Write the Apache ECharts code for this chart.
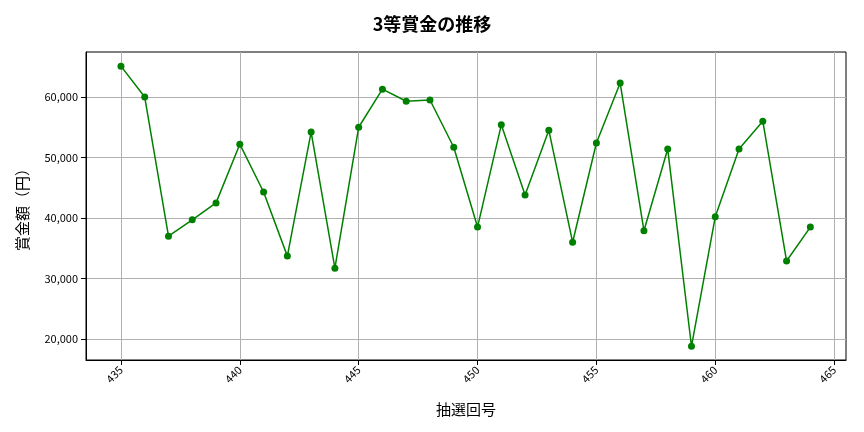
<!DOCTYPE html><html><head><meta charset="utf-8"><script src="https://cdn.jsdelivr.net/npm/echarts@6/dist/echarts.min.js"></script></head><body style="margin:0"><div id="c" style="width:864px;height:432px"></div><script>
const draws=[435,436,437,438,439,440,441,442,443,444,445,446,447,448,449,450,451,452,453,454,455,456,457,458,459,460,461,462,463,464];
const prizes=[65100,60000,37000,39700,42500,52200,44300,33700,54200,31700,55000,61300,59300,59500,51700,38500,55400,43800,54500,36000,52400,62300,37900,51400,18800,40200,51400,56000,32900,38500];
const xTicks=[435,440,445,450,455,460,465];
const yTicks=[20000,30000,40000,50000,60000];
const f='"Noto Sans CJK JP","Noto Sans",sans-serif';
const ch=echarts.init(document.getElementById('c'));
ch.setOption({animation:false,
title:{text:'3等賞金の推移',left:'center',top:10,textStyle:{fontFamily:f,fontSize:18,fontWeight:'bold',color:'#000'}},
grid:{left:86,right:18,top:52,bottom:72,show:true,borderColor:'#000',borderWidth:1},
xAxis:{type:'value',min:433.53,max:465.5,name:'抽選回号',nameLocation:'middle',nameGap:42,nameTextStyle:{fontFamily:f,fontSize:15,color:'#000'},
axisLine:{onZero:false,lineStyle:{color:'#000'}},axisTick:{customValues:xTicks,lineStyle:{color:'#000'}},
axisLabel:{customValues:xTicks,rotate:45,fontFamily:f,fontSize:11,color:'#000'},
splitLine:{show:true,lineStyle:{color:'#b0b0b0'}}},
yAxis:{type:'value',min:16530,max:67440,name:'賞金額（円）',nameLocation:'middle',nameGap:56,nameTextStyle:{fontFamily:f,fontSize:15,color:'#000'},
axisLine:{show:true,lineStyle:{color:'#000'}},axisTick:{show:true,customValues:yTicks,lineStyle:{color:'#000'}},
axisLabel:{customValues:yTicks,fontFamily:f,fontSize:11,color:'#000',formatter:v=>v.toLocaleString('en-US')},
splitLine:{show:true,lineStyle:{color:'#b0b0b0'}}},
series:[{type:'line',data:draws.map((d,i)=>[d,prizes[i]]),color:'#008000',symbol:'circle',symbolSize:7,lineStyle:{width:1.5,color:'#008000'},itemStyle:{color:'#008000'}}]
});
</script></body></html>
